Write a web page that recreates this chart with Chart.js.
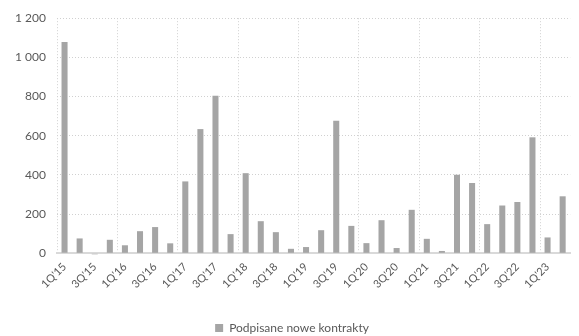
<!DOCTYPE html>
<html>
<head>
<meta charset="utf-8">
<script src="https://cdn.jsdelivr.net/npm/chart.js@4"></script>
<style>
  body { margin: 0; background: #fff; }
</style>
</head>
<body>
<canvas id="kontrakty" width="579" height="336"></canvas>
<script>
const quarters = [
  "1Q'15", "2Q'15", "3Q'15", "4Q'15", "1Q'16", "2Q'16", "3Q'16", "4Q'16",
  "1Q'17", "2Q'17", "3Q'17", "4Q'17", "1Q'18", "2Q'18", "3Q'18", "4Q'18",
  "1Q'19", "2Q'19", "3Q'19", "4Q'19", "1Q'20", "2Q'20", "3Q'20", "4Q'20",
  "1Q'21", "2Q'21", "3Q'21", "4Q'21", "1Q'22", "2Q'22", "3Q'22", "4Q'22",
  "1Q'23", "2Q'23",
];
const newContracts = [
  1078, 76, -5, 69, 41, 113, 134, 51,
  367, 634, 804, 98, 409, 164, 108, 23,
  32, 118, 677, 140, 52, 169, 27, 222,
  74, 12, 401, 359, 149, 244, 262, 592,
  81, 291,
];
const seriesName = "Podpisane nowe kontrakty";
const yTicks = [0, 200, 400, 600, 800, 1000, 1200];

const fontFamily = "Lato, 'Open Sans', sans-serif";
const textColor = "#595959";

// 1 200 style thousands separator
function formatPl(v) {
  return String(v).replace(/\B(?=(\d{3})+(?!\d))/g, " ");
}

const ctx = document.getElementById("kontrakty");
new Chart(ctx, {
  type: "bar",
  data: {
    labels: quarters,
    datasets: [
      {
        label: seriesName,
        data: newContracts,
        backgroundColor: "#a5a5a5",
        borderWidth: 0,
        barPercentage: 0.4,
        categoryPercentage: 1,
        clip: false,
      },
    ],
  },
  options: {
    responsive: false,
    animation: false,
    layout: {
      padding: { top: 10, right: 1, left: 6, bottom: -8 },
    },
    plugins: {
      legend: {
        position: "bottom",
        labels: {
          boxWidth: 8,
          boxHeight: 8,
          padding: 6,
          color: textColor,
          font: { family: fontFamily, size: 12 },
        },
      },
      tooltip: { enabled: false },
    },
    scales: {
      x: {
        offset: true,
        afterFit: function (axis) {
          axis.height += 18;
        },
        grid: {
          offset: true,
          drawTicks: false,
          color: function (c) {
            return c.index % 4 === 0 ? "#d0d0d0" : "rgba(0,0,0,0)";
          },
          lineWidth: 1,
        },
        border: {
          display: true,
          color: "#d9d9d9",
          width: 2,
          dash: [1, 2],
        },
        ticks: {
          autoSkip: false,
          maxRotation: 45,
          minRotation: 45,
          padding: 7,
          color: textColor,
          font: { family: fontFamily, size: 11 },
          callback: function (value, index) {
            return index % 2 === 0 ? quarters[index] : "";
          },
        },
      },
      y: {
        min: 0,
        max: 1200,
        afterBuildTicks: function (axis) {
          axis.ticks = yTicks.map(function (v) { return { value: v }; });
        },
        afterFit: function (axis) {
          axis.width = 51;
        },
        grid: {
          color: "#d0d0d0",
          drawTicks: false,
          tickLength: 0,
        },
        border: {
          display: false,
          dash: [1, 2],
        },
        ticks: {
          padding: 11,
          color: textColor,
          font: { family: fontFamily, size: 12 },
          callback: function (value) {
            return formatPl(value);
          },
        },
      },
    },
  },
});
</script>
</body>
</html>
